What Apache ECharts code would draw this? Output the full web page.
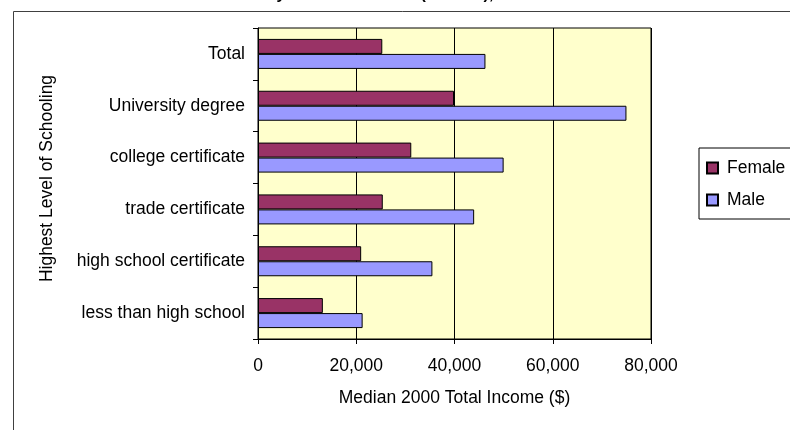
<!DOCTYPE html>
<html>
<head>
<meta charset="utf-8">
<script src="https://cdn.jsdelivr.net/npm/echarts@6/dist/echarts.min.js"></script>
<style>
  html, body { margin: 0; padding: 0; background: #fff; }
  #chart { width: 790px; height: 430px; }
</style>
</head>
<body>
<div id="chart"></div>
<script>
// Schooling levels, listed top to bottom
const categories = [
  'Total',
  'University degree',
  'college certificate',
  'trade certificate',
  'high school certificate',
  'less than high school'
];

// Median 2000 total income ($) by sex
const femaleIncome = [25300, 39900, 31200, 25400, 21000, 13200];
const maleIncome   = [46300, 75000, 50000, 44000, 35500, 21300];

// Value axis ticks
const incomeTicks = [0, 20000, 40000, 60000, 80000];

const FONT = 'Arial, "Liberation Sans", sans-serif';
const FS = 17.5;

const chart = echarts.init(document.getElementById('chart'), null, { renderer: 'canvas' });

chart.setOption({
  animation: false,
  textStyle: { fontFamily: FONT, color: '#000' },
  graphic: [
    {
      type: 'rect',
      shape: { x: 13.5, y: 11.5, width: 1000, height: 1000 },
      style: { fill: 'none', stroke: '#404040', lineWidth: 1 },
      silent: true
    },
    {
      type: 'text',
      x: 340, y: 3,
      style: {
        text: 'Median Income by Sex & Education (Canada), 2000',
        font: 'bold 16px ' + FONT,
        fill: '#000',
        align: 'center',
        verticalAlign: 'bottom'
      },
      silent: true
    }
  ],
  legend: {
    orient: 'vertical',
    left: 699,
    top: 148,
    padding: [11, 10, 10, 7],
    itemGap: 14,
    itemWidth: 11,
    itemHeight: 11,
    icon: 'rect',
    borderColor: '#000',
    borderWidth: 1,
    backgroundColor: '#fff',
    textStyle: { fontFamily: FONT, fontSize: FS, color: '#000', padding: [0, 0, 0, 4] },
    data: ['Female', 'Male']
  },
  grid: {
    show: true,
    left: 258,
    top: 28,
    width: 393,
    height: 311,
    backgroundColor: '#FFFFCC',
    borderColor: '#000',
    borderWidth: 1,
    containLabel: false
  },
  xAxis: {
    type: 'value',
    min: incomeTicks[0],
    max: incomeTicks[incomeTicks.length - 1],
    interval: incomeTicks[1] - incomeTicks[0],
    name: 'Median 2000 Total Income ($)',
    nameLocation: 'middle',
    nameGap: 50,
    nameTextStyle: { fontFamily: FONT, fontSize: FS, color: '#000' },
    axisLine: { show: true, lineStyle: { color: '#000', width: 1 } },
    axisTick: { show: true, length: 5, lineStyle: { color: '#000' } },
    axisLabel: {
      fontFamily: FONT, fontSize: FS, color: '#000', margin: 18,
      formatter: v => v.toLocaleString('en-US')
    },
    splitLine: { show: true, lineStyle: { color: '#000', width: 1 } }
  },
  yAxis: {
    type: 'category',
    data: categories,
    inverse: true,
    name: 'Highest Level of Schooling',
    nameLocation: 'middle',
    nameGap: 202,
    nameRotate: 90,
    nameTextStyle: { fontFamily: FONT, fontSize: FS, color: '#000', padding: [0, 0, 0, 10] },
    axisLine: { show: true, lineStyle: { color: '#000', width: 1 } },
    axisTick: { show: true, length: 5, lineStyle: { color: '#000' } },
    axisLabel: { fontFamily: FONT, fontSize: FS, color: '#000', margin: 13 },
    splitLine: { show: false }
  },
  series: [
    {
      name: 'Female',
      type: 'bar',
      data: femaleIncome,
      barWidth: 15,
      barGap: '0%',
      itemStyle: { color: '#993366', borderColor: '#000', borderWidth: 1 }
    },
    {
      name: 'Male',
      type: 'bar',
      data: maleIncome,
      barWidth: 15,
      barGap: '0%',
      itemStyle: { color: '#9999FF', borderColor: '#000', borderWidth: 1 }
    }
  ]
});
</script>
</body>
</html>
